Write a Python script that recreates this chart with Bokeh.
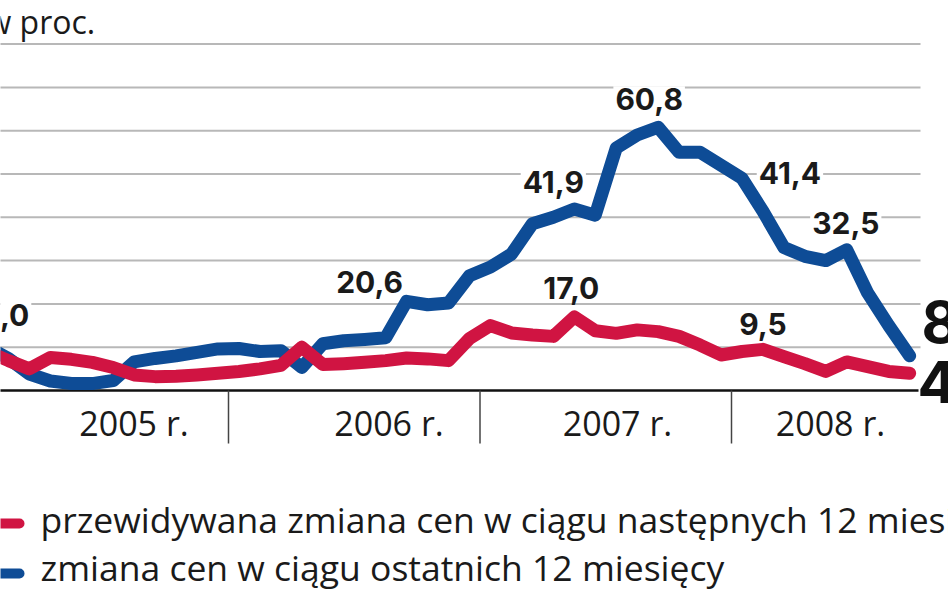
from bokeh.plotting import figure
from bokeh.models import Range1d
from bokeh.core.properties import value
from bokeh.embed import file_html
from bokeh.resources import INLINE

# ---------------- data ----------------
start_year = 2005
# zmiana cen w ciągu ostatnich 12 miesięcy (monthly, from Jan 2005)
blue = [10.0, 7.4, 3.8, 2.2, 1.6, 1.6, 2.3, 6.6, 7.4, 8.0, 8.8, 9.6,
        9.7, 9.0, 9.2, 5.3, 10.8, 11.5, 11.8, 12.2, 20.6, 19.8, 20.2, 26.5,
        28.5, 31.5, 38.5, 40.0, 41.9, 40.5, 56.0, 59.0, 60.8, 55.0, 55.0, 52.0,
        49.0, 41.4, 33.0, 31.0, 30.0, 32.5, 22.5, 15.0, 8.0]
# przewidywana zmiana cen w ciągu następnych 12 miesięcy
red = [9.0, 6.9, 5.0, 7.6, 7.2, 6.5, 5.3, 3.6, 3.2, 3.3, 3.6, 4.0,
       4.4, 5.0, 5.8, 10.0, 6.0, 6.2, 6.5, 6.9, 7.5, 7.3, 6.9, 12.0,
       15.0, 13.3, 12.8, 12.5, 17.0, 13.8, 13.2, 14.0, 13.6, 12.5, 10.5, 8.2,
       9.0, 9.5, 7.8, 6.2, 4.4, 6.6, 5.5, 4.4, 4.0]
year_labels = ["2005 r.", "2006 r.", "2007 r.", "2008 r."]
year_bounds = [2006, 2007, 2008]
grid_values = [10, 20, 30, 40, 50, 60, 70, 80]
value_labels = ["10,0", "20,6", "41,9", "60,8", "41,4", "32,5", "17,0", "9,5"]
label_series = ["b", "b", "b", "b", "b", "b", "r", "r"]
label_index = [0, 20, 28, 32, 37, 41, 28, 37]
end_labels = ["8", "4"]
legend_labels = ["przewidywana zmiana cen w ciągu następnych 12 miesięcy",
                 "zmiana cen w ciągu ostatnich 12 miesięcy"]
unit_label = "w proc."

# ---------------- styling / geometry ----------------
RED = "#d01442"
BLUE = "#0e4c96"
W, H = 948, 593
PX_YEAR = 251.5
PX_UNIT = 4.33
MARGIN = 0
K = 0.37  # baseline correction (fraction of font size)


def refx(X):
    return 2006 + (X - MARGIN - 228) / PX_YEAR


def refy(Y):
    return (390 - (Y - MARGIN)) / PX_UNIT


def base(Y, fs):
    return refy(Y - K * fs)


t = [start_year + (i + 0.5) / 12 for i in range(len(blue))]

p = figure(width=W, height=H, x_range=Range1d(refx(MARGIN), refx(MARGIN + W)),
           y_range=Range1d(refy(MARGIN + H), refy(MARGIN)),
           x_axis_type=None, y_axis_type=None, output_backend="svg",
           toolbar_location=None, min_border=0)
p.outline_line_color = None
p.background_fill_color = "white"
p.border_fill_color = "white"

# grid lines
p.segment(x0=[refx(-10)] * len(grid_values), y0=grid_values,
          x1=[refx(920)] * len(grid_values), y1=grid_values,
          line_color="#b8b8b8", line_width=2)

# value labels (white background)
LFS = 30
lab_dx = [11, -37, -21, -9, 27, -1, -3, 0]
lab_dy = [-32, -19, -27, -28, -38, -27, -29, -25]
lx, ly = [], []
for k, (s, i) in enumerate(zip(label_series, label_index)):
    v = blue[i] if s == "b" else red[i]
    lx.append(t[i] + lab_dx[k] / PX_YEAR)
    ly.append(v - (lab_dy[k] + 11 - K * LFS) / PX_UNIT)
p.text(x=lx, y=ly, text=value_labels, text_align="center", text_baseline="alphabetic",
       text_font=value("Inter"), text_font_style="bold", text_font_size=value(f"{LFS}px"),
       text_color="#1a1a1a", background_fill_color="white", padding=2)

# baseline and year separators
p.segment(x0=[refx(-10)], y0=[0], x1=[refx(918)], y1=[0], line_color="#111111", line_width=2.5)
p.segment(x0=year_bounds, y0=[0] * 3, x1=year_bounds, y1=[refy(443)] * 3,
          line_color="#444444", line_width=1.5)
year_cx = [133.5, 388.5, 617, 830]
YFS = 34
p.text(x=[refx(c) for c in year_cx], y=[base(435, YFS)] * 4, text=year_labels,
       text_align="center", text_baseline="alphabetic", text_font=value("Open Sans"),
       text_font_size=value(f"{YFS}px"), text_color="#1a1a1a")

# series lines
p.line(t, blue, line_color=BLUE, line_width=13, line_join="round", line_cap="round")
p.line(t, red, line_color=RED, line_width=13, line_join="round", line_cap="round")

# end labels
EFS = 58
p.text(x=[refx(921), refx(917)], y=[base(343, EFS), base(403, EFS)], text=end_labels,
       text_align="left", text_baseline="alphabetic", text_font=value("Inter"),
       text_font_style="bold", text_font_size=value(f"{EFS}px"), text_color="#111111")

# unit label
UFS = 32
p.text(x=[refx(-14)], y=[base(33, UFS)], text=[unit_label], text_align="left",
       text_baseline="alphabetic", text_font=value("Open Sans"),
       text_font_size=value(f"{UFS}px"), text_color="#1a1a1a")

# legend
GFS = 35.5
p.segment(x0=[refx(-10)] * 2, y0=[refy(523), refy(573)], x1=[refx(19)] * 2,
          y1=[refy(523), refy(573)], line_color=[RED, BLUE], line_width=10, line_cap="round")
p.text(x=[refx(40)] * 2, y=[base(532, GFS), base(580, GFS)], text=legend_labels,
       text_align="left", text_baseline="alphabetic", text_font=value("Open Sans"),
       text_font_size=value(f"{GFS}px"), text_color="#1a1a1a")

open("out.html", "w").write(file_html(p, INLINE))
